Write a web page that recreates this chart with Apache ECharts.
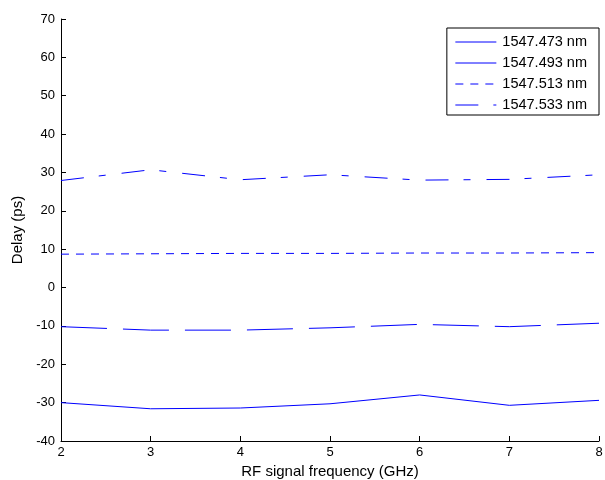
<!DOCTYPE html>
<html><head><meta charset="utf-8">
<script src="https://cdn.jsdelivr.net/npm/echarts@6/dist/echarts.min.js"></script>
<style>html,body{margin:0;padding:0;background:#fff}#c{width:605px;height:480px}</style>
</head><body><div id="c"></div>
<script>
var freqs = [2, 3, 4, 5, 6, 7, 8];
var seriesNames = ['1547.473 nm', '1547.493 nm', '1547.513 nm', '1547.533 nm'];
var s1473 = [-30.0, -31.6, -31.4, -30.3, -28.0, -30.7, -29.4];
var s1493 = [-10.2, -11.1, -11.1, -10.5, -9.6, -10.2, -9.3];
var s1513 = [8.7, 8.8, 8.9, 8.9, 9.0, 9.0, 9.1];
var s1533 = [27.9, 30.7, 28.1, 29.4, 28.0, 28.2, 29.4];
var yTicks = [-40, -30, -20, -10, 0, 10, 20, 30, 40, 50, 60, 70];
var xTicks = [2, 3, 4, 5, 6, 7, 8];

function pairs(v){ return freqs.map(function(f,i){ return [f, v[i]]; }); }
var allData = [s1473, s1493, s1513, s1533];
var dashes = ['solid', [46, 16], [8, 7], [23, 15, 7, 16]];

var font = 'Liberation Sans, Arial, sans-serif';
var chart = echarts.init(document.getElementById('c'), null, {renderer:'canvas'});
chart.setOption({
  animation: false,
  backgroundColor: '#fff',
  grid: {left: 61, right: 6, top: 19, bottom: 39, containLabel: false, outerBoundsMode: 'none'},
  legend: {
    orient: 'vertical', right: 6, top: 28,
    data: seriesNames,
    itemWidth: 41, itemHeight: 14, itemGap: 6,
    padding: [6.5, 12, 2.5, 8],
    borderColor: '#000', borderWidth: 1, backgroundColor: '#fff',
    itemStyle: {opacity: 0},
    lineStyle: {width: 1, color: '#0000ff'},
    textStyle: {fontFamily: font, fontSize: 14.5, lineHeight: 14, color: '#000', padding: [0, 0, 0, 1]}
  },
  xAxis: {
    type: 'value', min: 2, max: 8, interval: 1,
    name: 'RF signal frequency (GHz)', nameLocation: 'middle', nameGap: 22,
    nameTextStyle: {fontFamily: font, fontSize: 15, color: '#000'},
    axisLine: {onZero: false, lineStyle: {color: '#000', width: 1}},
    axisTick: {inside: true, length: 5, lineStyle: {color: '#000'}},
    axisLabel: {fontFamily: font, fontSize: 13, color: '#000', margin: 5,
      formatter: function(v){ return xTicks.indexOf(v) >= 0 ? String(v) : ''; }},
    splitLine: {show: false}
  },
  yAxis: {
    type: 'value', min: -40, max: 70, interval: 10,
    name: 'Delay (ps)', nameLocation: 'middle', nameGap: 32,
    nameTextStyle: {fontFamily: font, fontSize: 15, color: '#000'},
    axisLine: {show: true, onZero: false, lineStyle: {color: '#000', width: 1}},
    axisTick: {show: true, inside: true, length: 5, lineStyle: {color: '#000'}},
    axisLabel: {fontFamily: font, fontSize: 13, color: '#000', margin: 6,
      formatter: function(v){ return yTicks.indexOf(v) >= 0 ? String(v) : ''; }},
    splitLine: {show: false}
  },
  series: seriesNames.map(function(n, i){
    return {
      name: n, type: 'line', data: pairs(allData[i]),
      symbol: 'none', showSymbol: false,
      lineStyle: {color: '#0000ff', width: 1, type: dashes[i]},
      itemStyle: {color: '#0000ff'}
    };
  })
});
</script></body></html>
